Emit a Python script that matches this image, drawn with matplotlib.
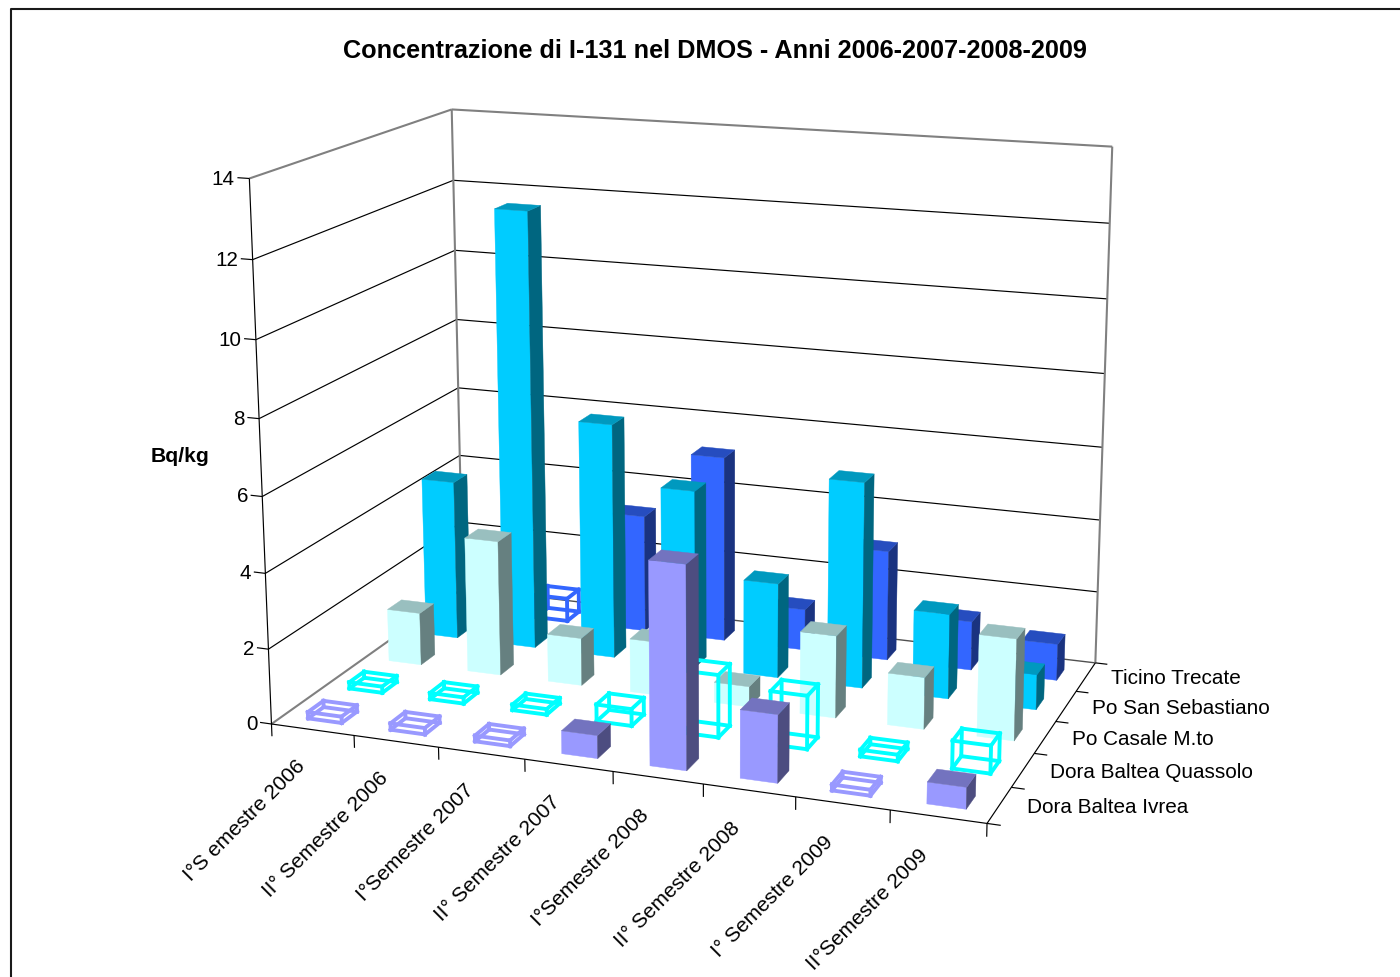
import numpy as np
import matplotlib
matplotlib.use("Agg")
import matplotlib.pyplot as plt
from matplotlib.lines import Line2D
from mpl_toolkits.mplot3d.art3d import Poly3DCollection, Line3DCollection

plt.rcParams['font.family'] = ['Liberation Sans', 'DejaVu Sans']

TITLE = "Concentrazione di I-131 nel DMOS - Anni 2006-2007-2008-2009"
UNIT = "Bq/kg"
semesters = ["I°S emestre 2006", "II° Semestre 2006", "I°Semestre 2007", "II° Semestre 2007",
             "I°Semestre 2008", "II° Semestre 2008", "I° Semestre 2009", "II°Semestre 2009"]
stations = ["Dora Baltea Ivrea", "Dora Baltea Quassolo", "Po Casale M.to",
            "Po San Sebastiano", "Ticino Trecate"]
z_ticks = [0, 2, 4, 6, 8, 10, 12, 14]

# Concentration per station, one value per semester
ivrea     = [0.17, 0.17, 0.15, 0.60, 5.25, 1.75, 0.15, 0.55]
quassolo  = [0.17, 0.17, 0.15, 0.45, 1.65, 1.40, 0.17, 0.72]
casale    = [1.45, 3.70, 1.30, 1.45, 0.55, 2.20, 1.38, 2.68]
sebastiano = [4.45, 12.10, 6.50, 4.90, 2.60, 5.60, 2.30, 0.95]
ticino    = [0.00, 0.65, 3.30, 5.20, 1.15, 3.05, 1.35, 1.00]
series = [ivrea, quassolo, casale, sebastiano, ticino]

# True where the value is below detection and the bar is outlined only
ivrea_open     = [1, 1, 1, 0, 0, 0, 1, 0]
quassolo_open  = [1, 1, 1, 1, 1, 1, 1, 1]
casale_open    = [0, 0, 0, 0, 0, 0, 0, 0]
sebastiano_open = [0, 0, 0, 0, 0, 0, 0, 0]
ticino_open    = [0, 1, 0, 0, 0, 0, 0, 0]
open_flags = [ivrea_open, quassolo_open, casale_open, sebastiano_open, ticino_open]

colors = ["#9999FF", "#00FFFF", "#CCFFFF", "#00CCFF", "#3366FF"]

W, H = 1400, 977
GAP_X = 0.295
GAP_FRONT = 0.29
GAP_BACK = 0.34

# Camera: correspondences between chart coordinates (semester, station, Bq/kg)
# and canvas pixels, solved for one projective matrix.
camera_points = [
    ((0, 0, 0), (272, 724)), ((0, 0, 14), (250, 177.5)), ((0, 0, 12), (253, 259)), ((0, 0, 10), (256, 340)),
    ((0, 5, 14), (451, 109)), ((0, 5, 12), (453, 181)), ((0, 5, 10), (455, 251)), ((0, 5, 0), (463, 587)),
    ((8, 0, 0), (986, 822.5)), ((8, 5, 0), (1094.5, 662)), ((8, 5, 14), (1113, 146.5)), ((8, 5, 12), (1109, 224)),
    ((1, 0, 0), (354, 736)), ((2, 0, 0), (438, 748)), ((3, 0, 0), (525, 760)),
    ((6, 0, 0), (795, 797)), ((7, 0, 0), (889, 810)),
    ((8, 4, 0), (1077, 692)), ((8, 3, 0), (1057, 722)), ((8, 2, 0), (1035, 753)), ((8, 1, 0), (1012, 787)),
]


def solve_camera(points):
    rows = []
    for (x, y, z), (u, v) in points:
        rows.append([x, y, z, 1, 0, 0, 0, 0, -u * x, -u * y, -u * z, -u])
        rows.append([0, 0, 0, 0, x, y, z, 1, -v * x, -v * y, -v * z, -v])
    _, _, vt = np.linalg.svd(np.array(rows, dtype=float))
    return vt[-1].reshape(3, 4)


P = solve_camera(camera_points)


def to_fig(x, y, z, dx=0.0, dy=0.0):
    # Figure-fraction position of a chart coordinate, with a nudge in pixels
    u, v, w = P @ np.array([x, y, z, 1.0])
    return (u / w + dx) / W, 1 - (v / w + dy) / H


fig = plt.figure(figsize=(W / 100, H / 100), dpi=100)
ax = fig.add_axes([0, 0, 1, 1], projection='3d')
ax.set_axis_off()
ax.apply_aspect = lambda *a, **k: None
ax.set_xlim(0, 8)
ax.set_ylim(0, 5)
ax.set_zlim(0, 14)
ax.computed_zorder = False


def camera_matrix():
    # Pixels (y down) -> display -> the axes' 2D data space used by mplot3d
    flip = np.array([[1, 0, 0], [0, -1, H], [0, 0, 1]], dtype=float)
    to_data = ax.transData.inverted().get_matrix()
    Q = to_data @ flip @ P
    return np.array([Q[0], Q[1], [0, 0, 0, 1], Q[2]])


ax.get_proj = camera_matrix


def line3(xs, ys, zs, color='black', lw=0.85, zorder=1):
    seg = [list(zip(xs, ys, zs))]
    ax.add_collection3d(Line3DCollection(seg, colors=color, linewidths=lw, zorder=zorder), autolim=False)


def shade(hex_color, k):
    rgb = np.array(matplotlib.colors.to_rgb(hex_color)) * k
    return tuple(rgb)


# Walls and gridlines
GRAY = '#808080'
for z in z_ticks[1:-1]:
    line3([0, 0], [0, 5], [z, z])
    line3([0, 8], [5, 5], [z, z])
line3([0, 8], [5, 5], [0, 0], color='#505050', lw=1.0)
line3([0, 0], [0, 5], [0, 0], color=GRAY, lw=1.5)
line3([0, 0], [0, 5], [14, 14], color=GRAY, lw=1.5)
line3([0, 8], [5, 5], [14, 14], color=GRAY, lw=1.5)
line3([0, 0], [5, 5], [0, 14], color=GRAY, lw=1.5)
line3([8, 8], [5, 5], [0, 14], color=GRAY, lw=1.5)

# Axis lines and ticks
line3([0, 0], [0, 0], [0, 14], zorder=2)
line3([0, 8], [0, 0], [0, 0], zorder=2)
line3([8, 8], [0, 5], [0, 0], zorder=2)
for z in z_ticks:
    line3([-0.14, 0], [0, 0], [z, z], zorder=2)
    px, py = to_fig(-0.17, 0, z, dy=1.5 + 0.1 * (7 - z / 2))
    fig.text(px, py, str(z), ha='right', va='center', fontsize=14.9)
for i in range(9):
    line3([i, i], [0, 0], [-0.33, 0], zorder=2)
for j in range(6):
    line3([8, 8.14], [j, j], [0, 0], zorder=2)

for i, label in enumerate(semesters):
    px, py = to_fig(i + 0.42, 0, -0.95, dx=-5, dy=-1)
    fig.text(px, py, label, rotation=45, rotation_mode='anchor',
             ha='right', va='center', fontsize=15.1)
for j, label in enumerate(stations):
    px, py = to_fig(8.3, j + 0.5, 0, dx=-1, dy=-1.2)
    fig.text(px, py, label, ha='left', va='center', fontsize=14.95)


# Bars, painted from the back row to the front and left to right inside a row
for j, (values, flags, base) in enumerate(zip(series, open_flags, colors)):
    for i, (h, is_open) in enumerate(zip(values, flags)):
        if h <= 0:
            continue
        x0, x1 = i + GAP_X, i + 1 - GAP_X
        y0, y1 = j + GAP_FRONT, j + 1 - GAP_BACK
        order = (4 - j) * 100 + i + 10
        if is_open:
            a = [(x0, y0, 0), (x1, y0, 0), (x1, y1, 0), (x0, y1, 0)]
            b = [(x0, y0, h), (x1, y0, h), (x1, y1, h), (x0, y1, h)]
            edges = [[a[k], a[(k + 1) % 4]] for k in range(4)]
            edges += [[b[k], b[(k + 1) % 4]] for k in range(4)]
            edges += [[a[k], b[k]] for k in range(4)]
            wire = Line3DCollection(edges, colors=base, linewidths=2.8, zorder=order)
            wire.set_capstyle('projecting')
            ax.add_collection3d(wire, autolim=False)
        else:
            faces = [
                ([(x0, y0, 0), (x1, y0, 0), (x1, y0, h), (x0, y0, h)], 1.0),
                ([(x1, y0, 0), (x1, y1, 0), (x1, y1, h), (x1, y0, h)], 0.5),
                ([(x0, y0, h), (x1, y0, h), (x1, y1, h), (x0, y1, h)], 0.75),
            ]
            for verts, k in faces:
                c = shade(base, k)
                poly = Poly3DCollection([verts], facecolors=[c], edgecolors=[c],
                                        linewidths=0.3, zorder=order)
                ax.add_collection3d(poly, autolim=False)

# Chart title, unit label and outer frame
fig.text(715 / W, 1 - 50.5 / H, TITLE, ha='center', va='center', fontsize=18.2, fontweight='bold')
fig.text(180 / W, 1 - 456 / H, UNIT, ha='center', va='center', fontsize=15.2, fontweight='bold')
fig.add_artist(Line2D([10.5 / W, 10.5 / W, 1 + 1 / W],
                      [-0.01, 1 - 9 / H, 1 - 9 / H], color='#1a1a1a', lw=1.5))

fig.savefig("out.png", dpi=100)
